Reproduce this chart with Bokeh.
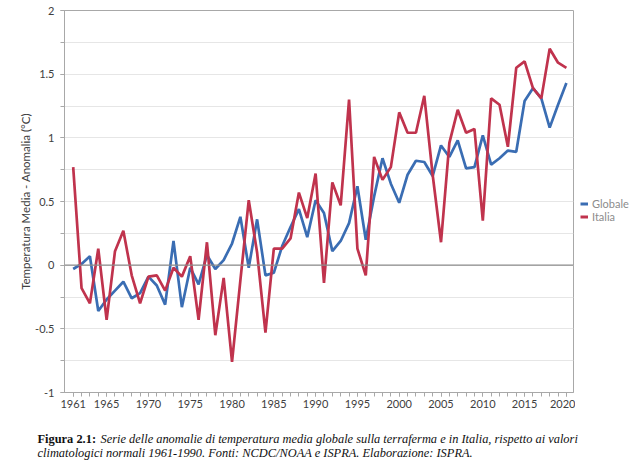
from bokeh.plotting import figure
from bokeh.models import FixedTicker, Span, Label, Legend, LegendItem, Range1d
from bokeh.layouts import column, row
from bokeh.embed import file_html
from bokeh.resources import INLINE

# ---------------- data ----------------
years = list(range(1961, 2021))
globale = [-0.03, 0.01, 0.07, -0.36, -0.27, -0.20, -0.13, -0.26, -0.22, -0.09,
           -0.16, -0.31, 0.19, -0.33, -0.02, -0.15, 0.08, -0.03, 0.04, 0.17,
           0.38, -0.02, 0.36, -0.08, -0.06, 0.15, 0.30, 0.44, 0.22, 0.51,
           0.41, 0.11, 0.19, 0.33, 0.62, 0.20, 0.54, 0.84, 0.64, 0.49,
           0.71, 0.82, 0.81, 0.70, 0.94, 0.85, 0.98, 0.76, 0.77, 1.02,
           0.79, 0.84, 0.90, 0.89, 1.29, 1.39, 1.31, 1.08, 1.26, 1.43]
italia = [0.77, -0.18, -0.30, 0.13, -0.43, 0.11, 0.27, -0.08, -0.30, -0.09,
          -0.08, -0.20, -0.02, -0.09, 0.07, -0.43, 0.18, -0.55, -0.10, -0.76,
          -0.12, 0.51, 0.10, -0.53, 0.13, 0.13, 0.21, 0.57, 0.37, 0.72,
          -0.14, 0.65, 0.47, 1.30, 0.13, -0.08, 0.85, 0.67, 0.77, 1.20,
          1.04, 1.04, 1.33, 0.71, 0.18, 0.96, 1.22, 1.04, 1.07, 0.35,
          1.31, 1.26, 0.93, 1.55, 1.60, 1.39, 1.31, 1.70, 1.59, 1.55]
series_names = ["Globale", "Italia"]
x_major_ticks = [1961, 1965, 1970, 1975, 1980, 1985, 1990, 1995, 2000, 2005, 2010, 2015, 2020]
y_major_ticks = [-1, -0.5, 0, 0.5, 1, 1.5, 2]
y_tick_labels = ["-1", "-0.5", "0", "0.5", "1", "1.5", "2"]
y_grid_ticks = [-1, -0.75, -0.5, -0.25, 0, 0.25, 0.5, 0.75, 1, 1.25, 1.5, 1.75, 2]
y_label = "Temperatura Media - Anomalia (°C)"
caption_bold = "Figura 2.1:"
caption_line1 = "Serie delle anomalie di temperatura media globale sulla terraferma e in Italia, rispetto ai valori"
caption_line2 = "climatologici normali 1961-1990. Fonti: NCDC/NOAA e ISPRA. Elaborazione: ISPRA."

BLUE = "#3a6db3"
RED = "#c0334d"
AXIS = "#a8a8a8"
TXT = "#404040"

# ---------------- main chart ----------------
p = figure(width=575, height=420, output_backend="svg", toolbar_location=None,
           x_range=Range1d(1959.96, 2020.85), y_range=Range1d(-1, 2),
           min_border_left=64, min_border_right=2, min_border_top=10, min_border_bottom=28,
           background_fill_color="white", border_fill_color="white")
p.outline_line_color = AXIS

p.xaxis.ticker = FixedTicker(ticks=x_major_ticks, minor_ticks=years)
p.yaxis.ticker = FixedTicker(ticks=y_major_ticks, minor_ticks=y_grid_ticks)
p.yaxis.major_label_overrides = {float(k): v for k, v in zip(y_major_ticks, y_tick_labels)}
for ax in (p.xaxis[0], p.yaxis[0]):
    ax.axis_line_color = AXIS
    ax.major_tick_line_color = AXIS
    ax.minor_tick_line_color = AXIS
    ax.major_tick_in = 0
    ax.major_tick_out = 4
    ax.minor_tick_in = 0
    ax.minor_tick_out = 4
    ax.major_label_text_font = "Lato"
    ax.major_label_text_font_size = "11px"
    ax.major_label_text_color = TXT
p.xaxis.major_label_standoff = 3
p.yaxis.major_label_standoff = 6
p.yaxis.axis_label = y_label
p.yaxis.axis_label_text_font = "Lato"
p.yaxis.axis_label_text_font_size = "11.5px"
p.yaxis.axis_label_text_font_style = "normal"
p.yaxis.axis_label_text_color = TXT
p.yaxis.axis_label_standoff = 0

p.xgrid.visible = False
p.ygrid.ticker = FixedTicker(ticks=y_grid_ticks)
p.ygrid.grid_line_color = "#e6e6e6"
p.ygrid.grid_line_width = 1

p.add_layout(Span(location=0, dimension="width", line_color="#8c8c8c", line_width=1.3))

p.line(years, globale, line_color=BLUE, line_width=2.7)
p.line(years, italia, line_color=RED, line_width=2.7)

# ---------------- legend panel (right) ----------------
# the series are drawn here too, but lie outside this panel's ranges (only the legend shows)
leg = figure(width=55, height=420, output_backend="svg", toolbar_location=None,
             x_range=Range1d(0, 55), y_range=Range1d(0, 420),
             x_axis_type=None, y_axis_type=None,
             min_border_left=0, min_border_right=0, min_border_top=0, min_border_bottom=0,
             background_fill_color="white", border_fill_color="white")
leg.outline_line_color = None
leg.grid.visible = False
lg_g = leg.line(years, globale, line_color=BLUE, line_width=3)
lg_i = leg.line(years, italia, line_color=RED, line_width=3)
legend = Legend(items=[LegendItem(label=series_names[0], renderers=[lg_g]),
                       LegendItem(label=series_names[1], renderers=[lg_i])],
                location=(5, 169), orientation="vertical",
                border_line_color=None, background_fill_alpha=0,
                padding=0, margin=0, spacing=0,
                glyph_width=8, glyph_height=11, label_height=11, label_standoff=4,
                label_text_font="Lato", label_text_font_size="11px",
                label_text_color="#8c8c8c")
leg.add_layout(legend)

# ---------------- caption panel (below) ----------------
cap = figure(width=630, height=41, output_backend="svg", toolbar_location=None,
             x_range=Range1d(0, 630), y_range=Range1d(0, 41),
             x_axis_type=None, y_axis_type=None,
             min_border_left=0, min_border_right=0, min_border_top=0, min_border_bottom=0,
             background_fill_color="white", border_fill_color="white")
cap.outline_line_color = None
cap.grid.visible = False
cap.add_layout(Label(x=37, y=23, x_units="screen", y_units="screen", text=caption_bold,
                     text_font="Liberation Serif", text_font_style="bold",
                     text_font_size="12.4px", text_baseline="middle", text_color="#111111"))
cap.add_layout(Label(x=100, y=23, x_units="screen", y_units="screen", text=caption_line1,
                     text_font="Liberation Serif", text_font_style="italic",
                     text_font_size="12.4px", text_baseline="middle", text_color="#111111"))
cap.add_layout(Label(x=37, y=9, x_units="screen", y_units="screen", text=caption_line2,
                     text_font="Liberation Serif", text_font_style="italic",
                     text_font_size="12.4px", text_baseline="middle", text_color="#111111"))

layout = column(row(p, leg, spacing=0), cap, spacing=0)
open("out.html", "w").write(file_html(layout, INLINE))
